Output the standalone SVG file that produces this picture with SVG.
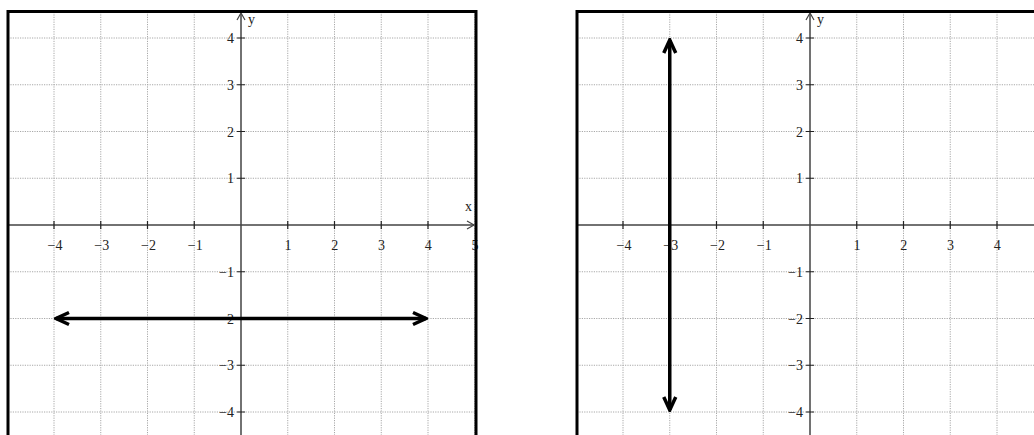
<svg xmlns="http://www.w3.org/2000/svg" xmlns:xlink="http://www.w3.org/1999/xlink" width="1034" height="435" viewBox="0 0 1034 435">
<style>
.grid{stroke:#a8a8a8;stroke-width:1;stroke-dasharray:1.2,1.2;fill:none}
.frame{stroke:#000;stroke-width:3;fill:none}
.axis{stroke:#444;stroke-width:1.5;fill:none}
.tick{stroke:#222;stroke-width:1.2}
.ah{stroke:#444;stroke-width:1.2;fill:none}
.thick{stroke:#000;stroke-width:3.5;fill:none;marker-start:url(#arr);marker-end:url(#arr)}
</style>
<defs>
<marker id="arr" markerUnits="userSpaceOnUse" viewBox="-18 -9 20 18" refX="0" refY="0" markerWidth="20" markerHeight="18" orient="auto-start-reverse">
<path d="M-13,-6 L0,0 L-13,6" fill="none" stroke="#000" stroke-width="3.5"/>
</marker>
<g id="plot">
<g class="grid">
<path d="M54,12V440M100.75,12V440M147.5,12V440M194.25,12V440M287.75,12V440M334.5,12V440M381.25,12V440M428,12V440M474.75,12V440"/>
<path d="M8,38H476M8,84.75H476M8,131.5H476M8,178.25H476M8,271.75H476M8,318.5H476M8,365.25H476M8,412H476"/>
</g>
<g id="axes">
<path class="axis" d="M8,225H474M241,440V14"/>
<path class="ah" d="M467,221L474,225L467,229M237,20L241,13L245,20"/>
<path class="tick" d="M54,221V229M100.75,221V229M147.5,221V229M194.25,221V229M287.75,221V229M334.5,221V229M381.25,221V229M428,221V229M237,38H245M237,84.75H245M237,131.5H245M237,178.25H245M237,271.75H245M237,318.5H245M237,365.25H245M237,412H245"/>
</g>
<g id="labels" font-family="'Liberation Serif','Times New Roman',serif" font-size="14" fill="#222">
<g text-anchor="middle">
<text x="55" y="250">−4</text>
<text x="101.75" y="250">−3</text>
<text x="148.5" y="250">−2</text>
<text x="195.25" y="250">−1</text>
<text x="288" y="250">1</text>
<text x="334.75" y="250">2</text>
<text x="381.5" y="250">3</text>
<text x="428.25" y="250">4</text>
<text x="475" y="250">5</text>
</g>
<g text-anchor="end">
<text x="234" y="43">4</text>
<text x="234" y="89.75">3</text>
<text x="234" y="136.5">2</text>
<text x="234" y="183.25">1</text>
<text x="234" y="276.75">−1</text>
<text x="234" y="323.5">−2</text>
<text x="234" y="370.25">−3</text>
<text x="234" y="417">−4</text>
</g>
<text x="248" y="24">y</text>
<text x="465" y="211">x</text>
</g>
<rect class="frame" x="8" y="11.5" width="468" height="440"/>
</g>
</defs>
<g id="graph-left">
<use xlink:href="#plot"/>
<path id="line-y-neg2" class="thick" d="M56,318.5H426"/>
</g>
<g id="graph-right" transform="translate(569,0)">
<use xlink:href="#plot"/>
<path id="line-x-neg3" class="thick" d="M100.75,40V410"/>
</g>
</svg>
